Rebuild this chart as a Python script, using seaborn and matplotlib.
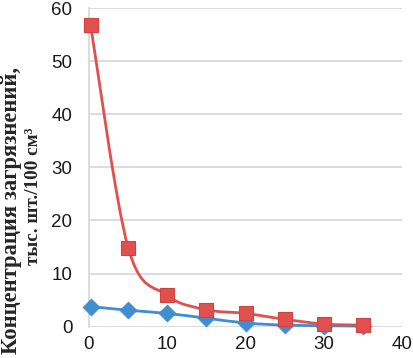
import numpy as np
import matplotlib
matplotlib.use("Agg")
import matplotlib.pyplot as plt
from matplotlib.path import Path
from matplotlib.patches import PathPatch
import pandas as pd
import seaborn as sns

sns.set_theme(style="white")
plt.rcParams['font.family'] = ['Liberation Sans', 'DejaVu Sans']

x_vals = [0.2, 5, 10, 15, 20, 25, 30, 35]
red_vals = [56.8, 14.9, 5.9, 3.2, 2.5, 1.4, 0.5, 0.3]
blue_vals = [3.8, 3.1, 2.5, 1.6, 0.7, 0.3, 0.2, 0.1]
x_ticks = [0, 10, 20, 30, 40]
y_ticks = [0, 10, 20, 30, 40, 50, 60]
ylabel_line1 = "Концентрация загрязнений,"
ylabel_line2 = "тыс. шт./100 см³"

red = "#E0504E"
blue = "#3F8DD2"


def smooth_path(xs, ys):
    # excel-like smoothed line: catmull-rom segments as cubic beziers
    pts = np.column_stack([xs, ys]).astype(float)
    n = len(pts)
    verts = [pts[0]]
    codes = [Path.MOVETO]
    for i in range(n - 1):
        p0 = pts[max(i - 1, 0)]
        p1 = pts[i]
        p2 = pts[i + 1]
        p3 = pts[min(i + 2, n - 1)]
        c1 = p1 + (p2 - p0) / 6.0
        c2 = p2 - (p3 - p1) / 6.0
        verts += [c1, c2, p2]
        codes += [Path.CURVE4] * 3
    return Path(verts, codes)


df = pd.DataFrame({"x": x_vals, "red": red_vals, "blue": blue_vals})

fig = plt.figure(figsize=(4.14, 3.58), dpi=100)
ax = fig.add_axes([89 / 414, 1 - 326.7 / 358, (402 - 89) / 414, (326.7 - 8) / 358])

for col, c in [("blue", blue), ("red", red)]:
    ax.add_patch(PathPatch(smooth_path(df["x"], df[col]), facecolor="none",
                           edgecolor=c, lw=2.0, zorder=3, clip_on=False))

sns.scatterplot(data=df, x="x", y="blue", marker="D", s=75, color=blue,
                edgecolor=blue, linewidth=0.5, ax=ax, zorder=4, clip_on=False)
sns.scatterplot(data=df, x="x", y="red", marker="s", s=115, color=red,
                edgecolor="#D04440", linewidth=0.8, ax=ax, zorder=5, clip_on=False)

ax.set_xlim(0, 40)
ax.set_ylim(0, 60)
ax.set_xticks(x_ticks)
ax.set_yticks(y_ticks)
ax.tick_params(axis="both", length=0, labelsize=13.5, colors="#1a1a1a")
ax.tick_params(axis="y", pad=12)
ax.tick_params(axis="x", pad=7)
ax.yaxis.grid(True, color="#D9D9D9", lw=1.3)
ax.xaxis.grid(False)
for s in ["top", "right", "bottom"]:
    ax.spines[s].set_visible(False)
ax.spines["left"].set_color("#D9D9D9")
ax.spines["left"].set_linewidth(1.3)
ax.set_xlabel("")
ax.set_ylabel("")

fig.text(12 / 414, 1 - 210 / 358, ylabel_line1, rotation=90, ha="center", va="center",
         fontsize=16.3, fontweight="bold", family="Liberation Serif")
fig.text(34 / 414, 1 - 196 / 358, ylabel_line2, rotation=90, ha="center", va="center",
         fontsize=13.8, fontweight="bold", family="Liberation Serif")

fig.savefig("out.png", dpi=100)
